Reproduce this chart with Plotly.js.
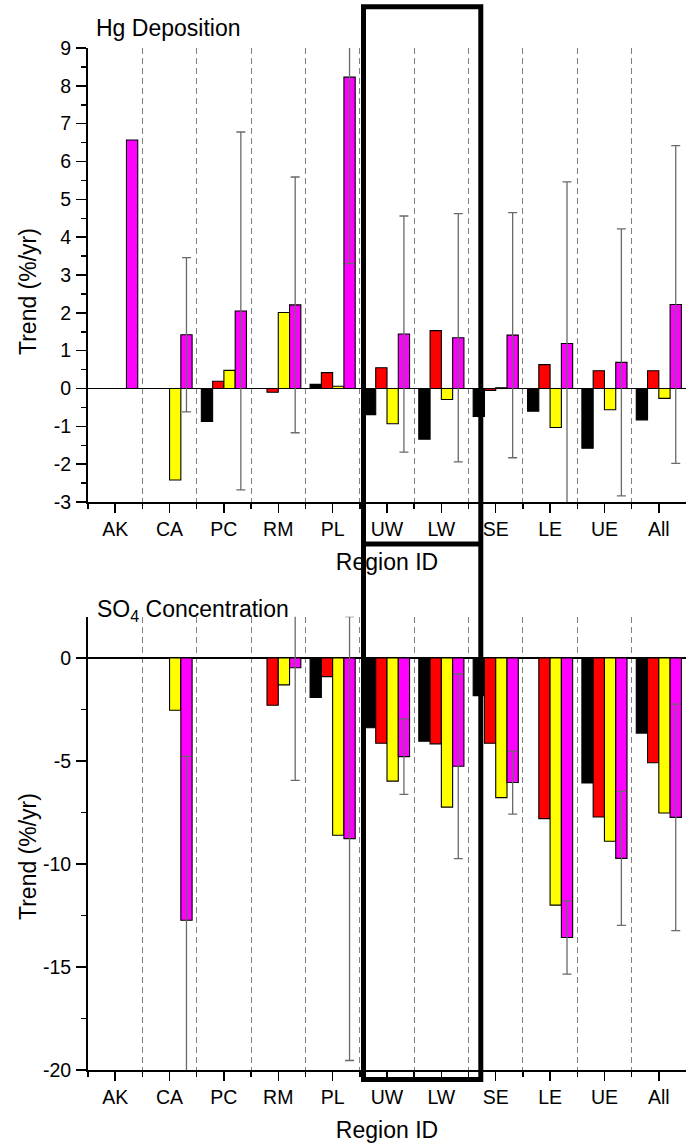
<!DOCTYPE html>
<html>
<head>
<meta charset="utf-8">
<script src="https://cdn.plot.ly/plotly-3.0.1.min.js"></script>
<style>html,body{margin:0;padding:0;background:#fff;}#chart{width:686px;height:1146px;}</style>
</head>
<body>
<div id="chart"></div>
<script>
// ---- Data ----
const categories = ["AK", "CA", "PC", "RM", "PL", "UW", "LW", "SE", "LE", "UE", "All"];

// Hg Deposition trends (%/yr)
const hgBlack   = [null, null, -0.87, null, 0.11, -0.69, -1.34, -0.74, -0.60, -1.58, -0.83];
const hgRed     = [null, null, 0.19, -0.10, 0.42, 0.55, 1.53, -0.05, 0.63, 0.47, 0.47];
const hgYellow  = [null, -2.42, 0.48, 2.01, 0.06, -0.93, -0.29, 0.02, -1.03, -0.56, -0.26];
const hgMagenta = [6.57, 1.42, 2.05, 2.21, 8.23, 1.44, 1.34, 1.41, 1.19, 0.69, 2.22];
const hgMagentaErr = [null, 2.04, 4.73, 3.38, 4.93, 3.12, 3.28, 3.24, 4.27, 3.53, 4.20];

// SO4 Concentration trends (%/yr)
const so4Black   = [null, null, null, null, -1.92, -3.39, -4.04, -1.83, null, -6.07, -3.65];
const so4Red     = [null, null, null, -2.30, -0.91, -4.14, -4.17, -4.14, -7.80, -7.72, -5.09];
const so4Yellow  = [null, -2.54, null, -1.31, -8.61, -5.98, -7.24, -6.78, -12.00, -8.90, -7.53];
const so4Magenta = [null, -12.73, null, -0.48, -8.77, -4.79, -5.26, -6.05, -13.57, -9.73, -7.74];
const so4MagentaErr = [null, 7.95, null, 5.46, 10.77, 1.83, 4.48, 1.53, 1.78, 3.25, 5.50];

// y tick values
const hgTicks  = [-3, -2, -1, 0, 1, 2, 3, 4, 5, 6, 7, 8, 9];
const so4Ticks = [-20, -15, -10, -5, 0];

const seriesNames = ["Black", "Red", "Yellow", "Magenta"];
const seriesColors = ["#000000", "#FF0000", "#FFFF00", "#FF00FF"];

// ---- Build ----
const xIdx = categories.map((c, i) => i);
const FONT = "Arial, 'Liberation Sans', sans-serif";

function makeTraces(vals, err, xa, ya) {
  return vals.map((v, k) => {
    const t = {
      type: "bar", x: xIdx, y: v, name: seriesNames[k],
      xaxis: xa, yaxis: ya, showlegend: false, hoverinfo: "skip",
      marker: {color: seriesColors[k], line: {color: "#000", width: 1.1}}
    };
    if (k === 3) {
      t.error_y = {type: "data", array: err.map(e => e === null ? NaN : e), visible: true,
                   color: "#6a6a6a", thickness: 1.3, width: 4.5};
    }
    return t;
  });
}

const traces = []
  .concat(makeTraces([hgBlack, hgRed, hgYellow, hgMagenta], hgMagentaErr, "x", "y"))
  .concat(makeTraces([so4Black, so4Red, so4Yellow, so4Magenta], so4MagentaErr, "x2", "y2"));

const boundaries = [-0.5];
for (let i = 0; i < categories.length - 1; i++) boundaries.push(i + 0.5);

function xAxis(anchor) {
  return {
    anchor: anchor, domain: [0, 1], range: [-0.5, 10.5],
    tickmode: "array", tickvals: xIdx, ticktext: categories,
    ticks: "outside", ticklen: 9, tickwidth: 1.5, tickcolor: "#000",
    showline: true, linewidth: 2, linecolor: "#000",
    showgrid: false, zeroline: false,
    tickfont: {family: FONT, size: 19.5, color: "#000"},
    minor: {tickmode: "array", tickvals: boundaries, ticks: "outside", ticklen: 5,
            tickwidth: 1.5, tickcolor: "#000", showgrid: true, gridcolor: "#808080",
            gridwidth: 1, griddash: "6px,4px"},
    title: {text: "Region ID", font: {family: FONT, size: 23, color: "#000"}, standoff: 14}
  };
}

function yAxis(anchor, domain, range, ticks, dtick) {
  return {
    anchor: anchor, domain: domain, range: range,
    tickmode: "array", tickvals: ticks, ticktext: ticks.map(v => String(v)),
    ticks: "outside", ticklen: 10, tickwidth: 1.5, tickcolor: "#000",
    showline: true, linewidth: 2, linecolor: "#000",
    showgrid: false, zeroline: true, zerolinecolor: "#000", zerolinewidth: 1.5,
    tickfont: {family: FONT, size: 19.5, color: "#000"},
    ticklabelstandoff: 1,
    minor: {tickmode: "linear", tick0: 0, dtick: dtick / 2, ticks: "outside", ticklen: 5,
            tickwidth: 1.5, tickcolor: "#000", showgrid: false}
  };
}

const W = 598, H = 1146, L = 88;
const px = x => (x - L) / W;
const py = y => 1 - y / H;

const layout = {
  width: 686, height: 1146,
  margin: {l: 88, r: 0, t: 0, b: 0},
  paper_bgcolor: "#fff", plot_bgcolor: "#fff",
  barmode: "group", bargap: 0.17, bargroupgap: 0,
  showlegend: false,
  font: {family: FONT, color: "#000"},
  xaxis: xAxis("y"),
  yaxis: yAxis("x", [py(502), py(48)], [-3, 9], hgTicks, 1),
  xaxis2: xAxis("y2"),
  yaxis2: yAxis("x2", [py(1070), py(616.7)], [-20, 2], so4Ticks, 5),
  annotations: [
    {text: "Hg Deposition", xref: "paper", yref: "paper", x: px(94), y: py(28),
     xanchor: "left", yanchor: "middle", showarrow: false, font: {size: 23, family: FONT}},
    {text: "SO<sub>4</sub> Concentration", xref: "paper", yref: "paper", x: px(95), y: py(610),
     xanchor: "left", yanchor: "middle", showarrow: false, font: {size: 23, family: FONT}},
    {text: "Trend (%/yr)", xref: "paper", yref: "paper", x: px(28), y: py(292), textangle: -90,
     xanchor: "center", yanchor: "middle", showarrow: false, font: {size: 23, family: FONT}},
    {text: "Trend (%/yr)", xref: "paper", yref: "paper", x: px(28), y: py(857), textangle: -90,
     xanchor: "center", yanchor: "middle", showarrow: false, font: {size: 23, family: FONT}}
  ],
  shapes: [
    {type: "rect", xref: "paper", yref: "paper", x0: px(363.5), x1: px(480.8),
     y0: py(1079.5), y1: py(6.7), line: {color: "#000", width: 5}, layer: "above"},
    {type: "line", xref: "paper", yref: "paper", x0: px(363.5), x1: px(480.8),
     y0: py(544), y1: py(544), line: {color: "#000", width: 5}, layer: "above"}
  ]
};

Plotly.newPlot("chart", traces, layout, {staticPlot: true, displayModeBar: false});
</script>
</body>
</html>
